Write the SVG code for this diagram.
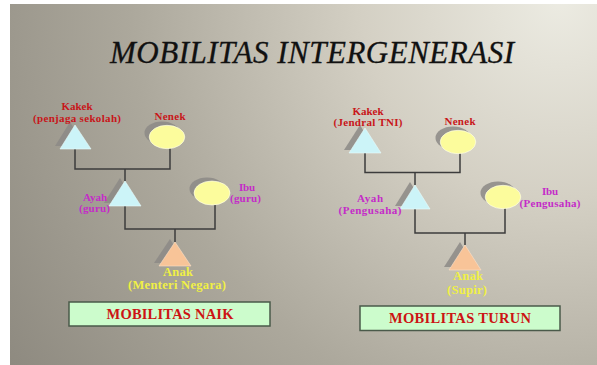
<svg xmlns="http://www.w3.org/2000/svg" width="597" height="365" viewBox="0 0 597 365">
<defs>
<radialGradient id="bg" gradientUnits="userSpaceOnUse" cx="560" cy="0" r="660" fx="560" fy="0">
<stop offset="0" stop-color="#ecebe2"/>
<stop offset="0.3" stop-color="#d4d0c4"/>
<stop offset="0.65" stop-color="#aca89c"/>
<stop offset="1" stop-color="#8e8a80"/>
</radialGradient>
<style>
.lbl{font-family:"Liberation Serif","Times New Roman",serif;font-weight:bold;font-size:11px;text-anchor:middle}
.big{font-size:12.5px}
.red{fill:#c8161a}
.pur{fill:#c42cc8}
.yel{fill:#f0f044}
.title{font-family:"Liberation Serif","Times New Roman",serif;font-style:italic;font-size:31px;fill:#111;stroke:#111;stroke-width:0.3}
.boxt{font-family:"Liberation Serif","Times New Roman",serif;font-weight:bold;font-size:14.5px;fill:#cc1414;text-anchor:middle}
.box{fill:#ccfccc;stroke:#4a5a4a;stroke-width:1.5}
.tri{fill:#ccf4f8;stroke:#e8fbfc;stroke-width:0.6}
.tri2{fill:#f8c498;stroke:#fde0c8;stroke-width:0.6}
.ell{fill:#fcfc9c;stroke:#fffff0;stroke-width:0.6}
.sh{fill:#8c8a86;opacity:0.85}
.con{fill:none;stroke:#3c3c3c;stroke-width:1.5}
</style>
</defs>
<rect x="0" y="0" width="597" height="365" fill="#ffffff"/>
<rect x="10" y="4" width="587" height="361" fill="url(#bg)"/>
<text class="title" x="110" y="63" textLength="404" lengthAdjust="spacing">MOBILITAS INTERGENERASI</text>

<g id="connectors">
<polyline class="con" points="75,149 75,169 170,169 170,148"/>
<line class="con" x1="125" y1="169" x2="125" y2="181"/>
<polyline class="con" points="125,206 125,229 215,229 215,205"/>
<line class="con" x1="175" y1="229" x2="175" y2="242"/>
<polyline class="con" points="365,152 365,172.5 460,172.5 460,153"/>
<line class="con" x1="415" y1="172.5" x2="415" y2="185"/>
<polyline class="con" points="415,209 415,233 505,233 505,208"/>
<line class="con" x1="465" y1="233" x2="465" y2="245"/>
</g>

<g id="kakek1">
<polygon class="sh" points="70,122 55,146 85,146"/>
<polygon class="tri" points="75,125 60,149 91,149"/>
<text class="lbl red" x="77" y="110" textLength="31" lengthAdjust="spacing">Kakek</text>
<text class="lbl red" x="77" y="122" textLength="88" lengthAdjust="spacing">(penjaga sekolah)</text>
</g>
<g id="nenek1">
<ellipse class="sh" cx="162" cy="133" rx="17.5" ry="11.5"/>
<ellipse class="ell" cx="167" cy="137" rx="17.8" ry="11.7"/>
<text class="lbl red" x="170" y="119.5" textLength="31" lengthAdjust="spacing">Nenek</text>
</g>
<g id="ayah1">
<polygon class="sh" points="120,178 104,203 135,203"/>
<polygon class="tri" points="125,181 109,206 141,206"/>
<text class="lbl pur" x="95" y="200.5" textLength="24" lengthAdjust="spacing">Ayah</text>
<text class="lbl pur" x="94.5" y="212" textLength="31" lengthAdjust="spacing">(guru)</text>
</g>
<g id="ibu1">
<ellipse class="sh" cx="207" cy="189" rx="17.5" ry="11.5"/>
<ellipse class="ell" cx="212" cy="193" rx="18" ry="12"/>
<text class="lbl pur" x="247" y="190.5" textLength="16" lengthAdjust="spacing">Ibu</text>
<text class="lbl pur" x="245.5" y="202" textLength="31" lengthAdjust="spacing">(guru)</text>
</g>
<g id="anak1">
<polygon class="sh" points="170,239 154,263 185,263"/>
<polygon class="tri2" points="175,242 159,266 191,266"/>
<text class="lbl big yel" x="178" y="276" textLength="30" lengthAdjust="spacing">Anak</text>
<text class="lbl big yel" x="177" y="289" textLength="98" lengthAdjust="spacing">(Menteri Negara)</text>
</g>
<g id="naik">
<rect class="box" x="69" y="302" width="201" height="24"/>
<text class="boxt" x="170" y="318.5" textLength="127" lengthAdjust="spacing">MOBILITAS NAIK</text>
</g>

<g id="kakek2">
<polygon class="sh" points="360,125 344,150 375,150"/>
<polygon class="tri" points="365,128 349,153 381,153"/>
<text class="lbl red" x="368" y="114.5" textLength="31" lengthAdjust="spacing">Kakek</text>
<text class="lbl red" x="368" y="126" textLength="69" lengthAdjust="spacing">(Jendral TNI)</text>
</g>
<g id="nenek2">
<ellipse class="sh" cx="453" cy="138" rx="17.5" ry="11.5"/>
<ellipse class="ell" cx="458" cy="142" rx="17.8" ry="11.7"/>
<text class="lbl red" x="460" y="124.5" textLength="31" lengthAdjust="spacing">Nenek</text>
</g>
<g id="ayah2">
<polygon class="sh" points="410,182 395,206 425,206"/>
<polygon class="tri" points="415,185 400,209 430,209"/>
<text class="lbl pur" x="370" y="202" textLength="26" lengthAdjust="spacing">Ayah</text>
<text class="lbl pur" x="370" y="214" textLength="63" lengthAdjust="spacing">(Pengusaha)</text>
</g>
<g id="ibu2">
<ellipse class="sh" cx="498" cy="193" rx="17.5" ry="11.5"/>
<ellipse class="ell" cx="503" cy="197" rx="17.8" ry="11.7"/>
<text class="lbl pur" x="550" y="194.5" textLength="16" lengthAdjust="spacing">Ibu</text>
<text class="lbl pur" x="550" y="206.5" textLength="61" lengthAdjust="spacing">(Pengusaha)</text>
</g>
<g id="anak2">
<polygon class="sh" points="460,242 444,267 475,267"/>
<polygon class="tri2" points="465,245 449,270 481,270"/>
<text class="lbl big yel" x="468" y="280" textLength="30" lengthAdjust="spacing">Anak</text>
<text class="lbl big yel" x="467" y="294" textLength="40" lengthAdjust="spacing">(Supir)</text>
</g>
<g id="turun">
<rect class="box" x="360" y="306" width="200" height="24.5"/>
<text class="boxt" x="460" y="323" textLength="142" lengthAdjust="spacing">MOBILITAS TURUN</text>
</g>
</svg>
